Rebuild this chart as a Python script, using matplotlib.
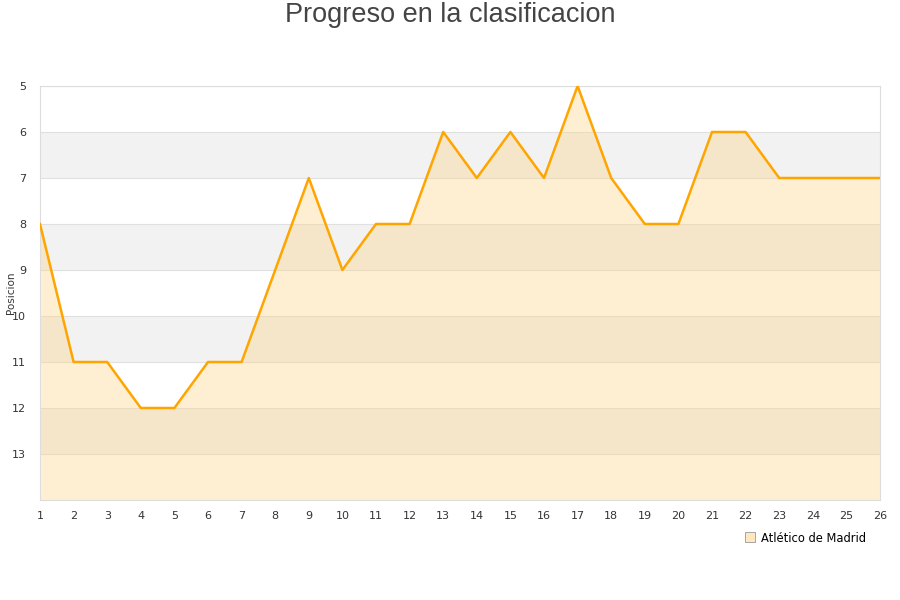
import matplotlib
matplotlib.use("Agg")
import matplotlib.pyplot as plt
from matplotlib.lines import Line2D

jornadas = list(range(1, 27))
posiciones = [8, 11, 11, 12, 12, 11, 11, 9, 7, 9, 8, 8, 6, 7, 6, 7, 5, 7, 8, 8, 6, 6, 7, 7, 7, 7]
yticks = [5, 6, 7, 8, 9, 10, 11, 12, 13]
team = "Atlético de Madrid"
title = "Progreso en la clasificacion"
ylabel = "Posicion"

fig = plt.figure(figsize=(9, 6), dpi=100)
ax = fig.add_axes([40/900, 1-500/600, 840/900, 414/600])

# alternating bands
for k in range(5, 14):
    if k % 2 == 0:
        ax.axhspan(k, k+1, color="#f2f2f2", zorder=0, lw=0)
for k in yticks:
    ax.axhline(k, color="#e0e0e0", lw=0.8, zorder=1)

ax.fill_between(jornadas, posiciones, 14, color="#ffd27f", alpha=0.35, lw=0, zorder=2)
ax.plot(jornadas, posiciones, color="#ffa500", lw=1.8, zorder=3)

ax.set_xlim(1, 26)
ax.set_ylim(14, 5)
ax.set_xticks(jornadas)
ax.set_yticks(yticks)
ax.tick_params(axis="both", length=0, labelsize=8, colors="#333333")
ax.tick_params(axis="x", pad=8)
ax.tick_params(axis="y", pad=10)
for s in ax.spines.values():
    s.set_color("#dddddd")
    s.set_linewidth(0.8)
ax.set_ylabel(ylabel, fontsize=7.5, color="#333333")
ax.yaxis.set_label_coords(-24/840, 0.5)

fig.text(0.5, 1-15/600, title, ha="center", va="center", fontsize=19.5,
         family="Liberation Sans", color="#444444")

handle = Line2D([], [], marker="s", ls="none", markersize=6.5,
                markerfacecolor="#ffe8c0", markeredgecolor="#999999", markeredgewidth=0.6)
fig.legend([handle], [team], loc="center", bbox_to_anchor=(805/900, 1-538/600),
           frameon=False, fontsize=8.3, handletextpad=0.5, borderpad=0, handlelength=1)

fig.savefig("out.png", dpi=100)
